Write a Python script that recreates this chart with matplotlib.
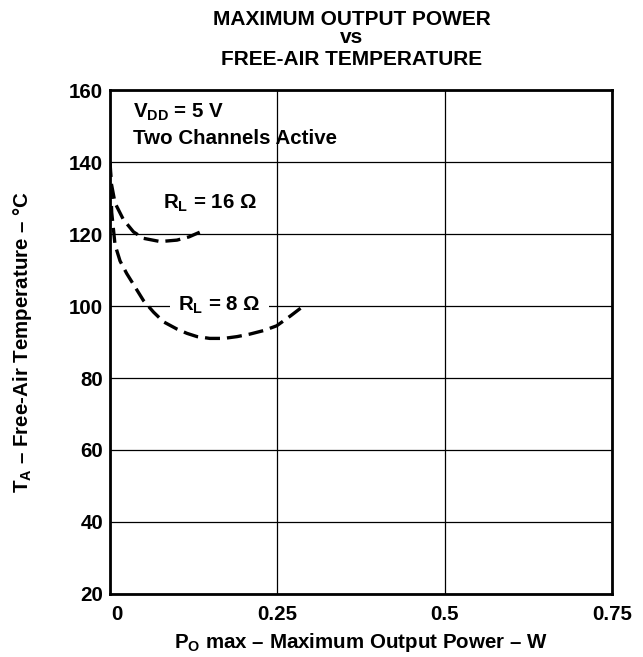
import matplotlib.pyplot as plt
from matplotlib.transforms import ScaledTranslation

plt.rcParams["font.family"] = ["Liberation Sans", "DejaVu Sans"]
plt.rcParams["font.weight"] = "bold"
plt.rcParams["axes.labelweight"] = "bold"
plt.rcParams["mathtext.fontset"] = "custom"
plt.rcParams["mathtext.rm"] = "Liberation Sans:bold"
plt.rcParams["mathtext.it"] = "Liberation Sans:bold"
plt.rcParams["mathtext.bf"] = "Liberation Sans:bold"

# R_L = 16 ohm curve (W, degC)
p16 = [0, 0.002, 0.0075, 0.02, 0.035, 0.05, 0.075, 0.1, 0.118, 0.134]
t16 = [140, 134, 128.6, 124, 120.6, 118.8, 117.9, 118.3, 119.2, 120.5]

# R_L = 8 ohm curve (W, degC)
p8 = [0, 0.0025, 0.0075, 0.015, 0.025, 0.035, 0.05, 0.065, 0.08, 0.1,
      0.115, 0.13, 0.149, 0.17, 0.19, 0.209, 0.23, 0.249, 0.27, 0.289]
t8 = [140, 126, 117, 112.5, 109, 106, 101.5, 98.3, 95.6, 93.6,
      92.4, 91.5, 91, 91, 91.5, 92.2, 93.2, 94.5, 97.3, 100]

xticks = [0, 0.25, 0.5, 0.75]
xtick_labels = ["0", "0.25", "0.5", "0.75"]
yticks = [20, 40, 60, 80, 100, 120, 140, 160]

FS = 14.8

fig = plt.figure(figsize=(6.43, 6.57), dpi=100)
ax = fig.add_axes([0.1711, 0.0959, 0.7807, 0.7671])

ax.plot(p16, t16, color="black", lw=2.4, dashes=(4.5, 2.1), zorder=3)
ax.plot(p8, t8, color="black", lw=2.4, dashes=(4.5, 2.1), zorder=3)

ax.set_xlim(0, 0.75)
ax.set_ylim(20, 160)
ax.set_xticks(xticks)
ax.set_xticklabels(xtick_labels)
ax.set_yticks(yticks)
ax.set_axisbelow(True)
ax.grid(True, color="black", lw=0.9)
ax.tick_params(length=0, labelsize=FS)
ax.tick_params(axis="x", pad=8)
ax.tick_params(axis="y", pad=5)
for s in ax.spines.values():
    s.set_linewidth(2.0)

# the "0" label sits a little right of the corner
lbl0 = ax.get_xticklabels()[0]
lbl0.set_transform(lbl0.get_transform()
                   + ScaledTranslation(0.07, 0, fig.dpi_scale_trans))

ax.set_xlabel(r"P$_O$ max – Maximum Output Power – W", fontsize=FS)
ax.set_ylabel(r"T$_A$ – Free-Air Temperature – °C", fontsize=FS)
ax.xaxis.set_label_coords(0.5, -0.074)
ax.yaxis.set_label_coords(-0.151, 0.5)

ax.text(0.035, 152.2, r"V$_{DD}$ = 5 V", fontsize=FS, va="baseline")
ax.text(0.035, 145.0, "Two Channels Active", fontsize=FS, va="baseline")
ax.text(0.079, 126.9, r"R$_L$ = 16 Ω", fontsize=FS, va="baseline",
        zorder=4)
ax.text(0.1016, 98.7, r"R$_L$ = 8 Ω", fontsize=FS, va="baseline",
        bbox=dict(boxstyle="square,pad=0.4", facecolor="white",
                  edgecolor="none"), zorder=2)

fig.text(0.5474, 0.962, "MAXIMUM OUTPUT POWER", ha="center", va="baseline",
         fontsize=15)
fig.text(0.5474, 0.9346, "vs", ha="center", va="baseline", fontsize=15)
fig.text(0.5474, 0.901, "FREE-AIR TEMPERATURE", ha="center", va="baseline",
         fontsize=15)

fig.savefig("out.png", dpi=100)
